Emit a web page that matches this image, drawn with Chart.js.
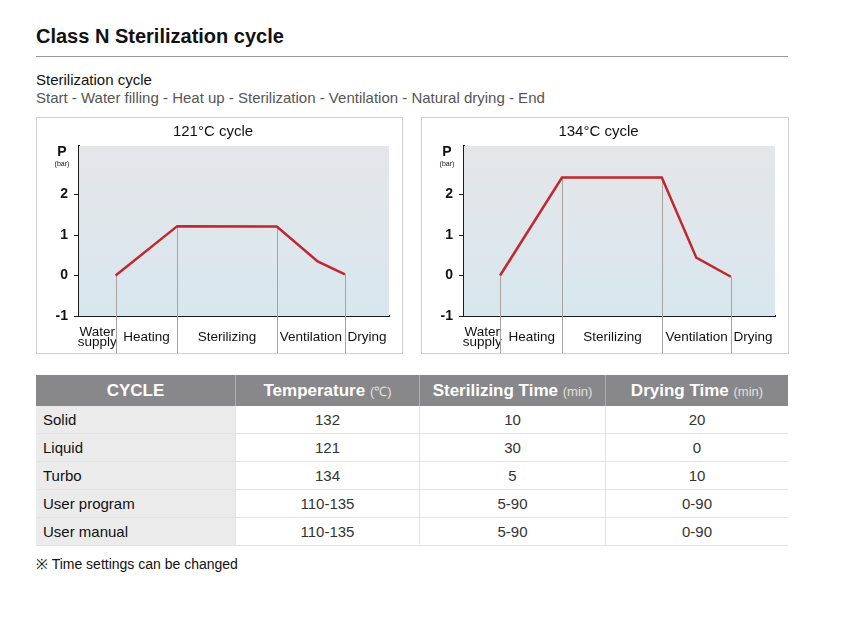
<!DOCTYPE html>
<html>
<head>
<meta charset="utf-8">
<script src="https://cdn.jsdelivr.net/npm/chart.js@4.4.1/dist/chart.umd.min.js"></script>
<style>
  body { margin: 0; background: #fff; font-family: "Liberation Sans", Arial, sans-serif; color: #111; }
  .page { position: relative; width: 854px; height: 618px; }
  .title { position: absolute; left: 36px; top: 25px; font-size: 20px; font-weight: bold; }
  .rule { position: absolute; left: 36px; top: 56px; width: 752px; height: 1px; background: #9a9a9a; }
  .sub1 { position: absolute; left: 36px; top: 71px; font-size: 15px; }
  .sub2 { position: absolute; left: 36px; top: 89px; font-size: 15px; color: #555; }
  .box { position: absolute; top: 117px; height: 237px; border: 1px solid #cfcfcf; box-sizing: border-box; }
  .box canvas { display: block; }
  table { position: absolute; left: 36px; top: 375px; width: 752px; border-collapse: collapse; font-size: 15px; }
  th { background: #88888a; color: #fff; font-size: 17px; height: 31px; padding: 0; border-left: 1px solid #b0b0b2; }
  th:first-child { border-left: none; }
  th span { font-weight: normal; font-size: 13px; color: #e2e2e2; }
  td { height: 27px; padding: 0; text-align: center; border-bottom: 1px solid #e3e3e3; border-left: 1px solid #e3e3e3; color: #333; }
  td:first-child { text-align: left; padding-left: 7px; background: #ebebeb; border-left: none; color: #111; }
  .note { position: absolute; left: 36px; top: 554px; font-size: 14px; }
</style>
</head>
<body>
<div class="page">
  <div class="title">Class N Sterilization cycle</div>
  <div class="rule"></div>
  <div class="sub1">Sterilization cycle</div>
  <div class="sub2">Start - Water filling - Heat up - Sterilization - Ventilation - Natural drying - End</div>
  <div class="box" style="left:36px;width:367px"><canvas id="c121" width="365" height="235"></canvas></div>
  <div class="box" style="left:421px;width:368px"><canvas id="c134" width="366" height="235"></canvas></div>
  <table>
    <tr><th style="width:199px">CYCLE</th><th style="width:183px">Temperature <span>(℃)</span></th><th style="width:185px">Sterilizing Time <span>(min)</span></th><th>Drying Time <span>(min)</span></th></tr>
    <tbody id="rows"></tbody>
  </table>
  <div class="note">※ Time settings can be changed</div>
</div>
<script>
// cycle phases (x axis runs 0..100 across the plot)
const phaseNames = [['Water', 'supply'], 'Heating', 'Sterilizing', 'Ventilation', 'Drying'];
const phaseEdges = [0, 11.8, 31.7, 63.8, 85.8, 100];
const pressureTicks = [-1, 0, 1, 2];
// points that mark a phase change get a drop line
const dropPoints = [0, 1, 2, 4];

// 121°C cycle
const time121 = [11.8, 31.7, 63.8, 77.0, 85.8];
const pressure121 = [0, 1.22, 1.21, 0.35, 0.03];

// 134°C cycle
const time134 = [11.6, 31.5, 63.6, 74.7, 85.8];
const pressure134 = [0, 2.42, 2.42, 0.44, -0.03];

// table
const cycles = ['Solid', 'Liquid', 'Turbo', 'User program', 'User manual'];
const temperatures = ['132', '121', '134', '110-135', '110-135'];
const sterilizingTimes = ['10', '30', '5', '5-90', '5-90'];
const dryingTimes = ['20', '0', '10', '0-90', '0-90'];

const rows = document.getElementById('rows');
cycles.forEach((c, i) => {
    const tr = document.createElement('tr');
    [c, temperatures[i], sterilizingTimes[i], dryingTimes[i]].forEach(v => {
        const td = document.createElement('td');
        td.textContent = v;
        tr.appendChild(td);
    });
    rows.appendChild(tr);
});

Chart.defaults.font.family = '"Liberation Sans", Arial, sans-serif';
Chart.defaults.color = '#111';

const phaseMids = phaseNames.map((_, i) => (phaseEdges[i] + phaseEdges[i + 1]) / 2);

// plot background gradient + "P (bar)" label + drop lines at phase changes
const cyclePlugin = {
    id: 'cycleDecor',
    beforeDatasetsDraw(chart) {
        const { ctx, chartArea: a } = chart;
        ctx.save();
        const g = ctx.createLinearGradient(0, a.top, 0, a.bottom);
        g.addColorStop(0, '#e5e6e8');
        g.addColorStop(1, '#d8e7ef');
        ctx.fillStyle = g;
        ctx.fillRect(a.left, a.top, a.right - a.left, a.bottom - a.top);
        ctx.restore();
    },
    beforeDatasetDraw(chart) {
        const { ctx } = chart;
        const meta = chart.getDatasetMeta(0);
        ctx.save();
        ctx.strokeStyle = '#a4a4a4';
        ctx.lineWidth = 1;
        dropPoints.forEach(i => {
            const p = meta.data[i];
            const px = Math.round(p.x) + 0.5;
            ctx.beginPath();
            ctx.moveTo(px, p.y);
            ctx.lineTo(px, chart.height);
            ctx.stroke();
        });
        ctx.restore();
    },
    afterDraw(chart) {
        const { ctx, chartArea: a } = chart;
        ctx.save();
        ctx.fillStyle = '#111';
        ctx.textAlign = 'center';
        ctx.textBaseline = 'middle';
        ctx.font = 'bold 14px "Liberation Sans", Arial, sans-serif';
        ctx.fillText('P', a.left - 17, a.top + 6);
        ctx.font = '7px "Liberation Sans", Arial, sans-serif';
        ctx.fillText('(bar)', a.left - 17, a.top + 18);
        ctx.restore();
    }
};

function cycleChart(id, title, times, pressures) {
    return new Chart(document.getElementById(id), {
        type: 'line',
        data: {
            datasets: [{
                data: times.map((t, i) => ({ x: t, y: pressures[i] })),
                borderColor: '#c1272d',
                borderWidth: 2.5,
                pointRadius: 0,
                tension: 0
            }]
        },
        options: {
            responsive: false,
            animation: false,
            layout: { padding: { top: 5, right: 13, left: 0, bottom: 0 } },
            scales: {
                x: {
                    type: 'linear',
                    min: 0,
                    max: 100,
                    afterBuildTicks: s => { s.ticks = phaseMids.map(v => ({ value: v })); },
                    afterFit: s => { s.height = 37; },
                    grid: { display: false },
                    border: { color: '#1a1a1a', width: 2 },
                    ticks: {
                        autoSkip: false,
                        maxRotation: 0,
                        padding: 8,
                        crossAlign: 'center',
                        font: { size: 13.5, lineHeight: 0.76 },
                        color: '#111',
                        callback: (v, i) => phaseNames[i]
                    }
                },
                y: {
                    min: -1,
                    max: 3.2,
                    afterBuildTicks: s => { s.ticks = pressureTicks.map(v => ({ value: v })); },
                    afterFit: s => { s.width = 42; },
                    border: { color: '#1a1a1a', width: 2, dash: [2, 2] },
                    grid: {
                        color: c => c.tick.value === -1 ? 'rgba(0,0,0,0)' : '#b9bcc0',
                        tickColor: '#1a1a1a',
                        tickLength: 5,
                        lineWidth: 1
                    },
                    ticks: {
                        padding: 6,
                        font: { size: 14, weight: 'bold' },
                        color: '#111'
                    }
                }
            },
            plugins: {
                legend: { display: false },
                tooltip: { enabled: false },
                title: {
                    display: true,
                    text: title,
                    font: { size: 15, weight: 'normal' },
                    color: '#111',
                    padding: { top: 0, bottom: 5 }
                }
            }
        },
        plugins: [cyclePlugin]
    });
}

cycleChart('c121', '121°C cycle', time121, pressure121);
cycleChart('c134', '134°C cycle', time134, pressure134);
</script>
</body>
</html>
